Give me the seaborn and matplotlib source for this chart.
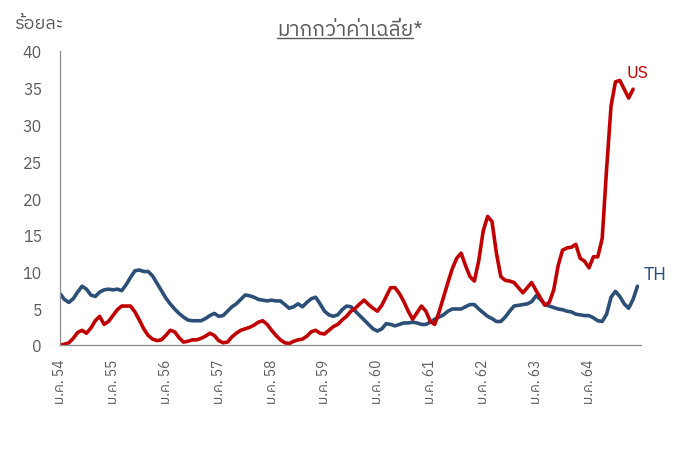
import numpy as np
import pandas as pd
import matplotlib
matplotlib.use("Agg")
import matplotlib.pyplot as plt
import seaborn as sns
from matplotlib import font_manager
from matplotlib.ft2font import FT2Font
from matplotlib.lines import Line2D

# ---- data ----
years = ["54", "55", "56", "57", "58", "59", "60", "61", "62", "63", "64"]
tick_labels = ["ม.ค. " + y for y in years]

th = [7.0, 6.2, 5.8, 6.3, 7.2, 8.0, 7.6, 6.8, 6.6, 7.2, 7.5, 7.6,
      7.5, 7.6, 7.4, 8.2, 9.2, 10.1, 10.2, 10.0, 10.0, 9.4, 8.4, 7.4,
      6.4, 5.6, 4.9, 4.3, 3.8, 3.4, 3.3, 3.3, 3.3, 3.6, 4.0, 4.3,
      3.9, 4.0, 4.6, 5.2, 5.6, 6.2, 6.8, 6.7, 6.5, 6.2, 6.1, 6.0,
      6.1, 6.0, 6.0, 5.5, 5.0, 5.2, 5.6, 5.2, 5.8, 6.3, 6.5, 5.6,
      4.6, 4.1, 3.9, 4.1, 4.8, 5.3, 5.2, 4.6, 4.0, 3.4, 2.8, 2.2,
      1.9, 2.2, 2.9, 2.8, 2.6, 2.8, 3.0, 3.0, 3.1, 3.0, 2.8, 2.8,
      3.1, 3.5, 3.8, 4.1, 4.6, 4.9, 4.9, 4.9, 5.2, 5.5, 5.5, 4.9,
      4.4, 3.9, 3.6, 3.2, 3.2, 3.8, 4.6, 5.3, 5.4, 5.5, 5.6, 5.9,
      6.7, 6.2, 5.5, 5.3, 5.1, 4.9, 4.8, 4.6, 4.5, 4.2, 4.1, 4.0,
      4.0, 3.7, 3.3, 3.2, 4.2, 6.5, 7.3, 6.6, 5.6, 5.0, 6.2, 8.0]

us = [0.0, 0.1, 0.3, 0.9, 1.7, 2.0, 1.6, 2.3, 3.3, 3.9, 2.8, 3.2,
      4.0, 4.8, 5.3, 5.3, 5.3, 4.5, 3.4, 2.2, 1.3, 0.8, 0.6, 0.7,
      1.3, 2.0, 1.8, 1.0, 0.4, 0.5, 0.7, 0.7, 0.9, 1.2, 1.6, 1.3,
      0.6, 0.3, 0.4, 1.1, 1.6, 2.0, 2.2, 2.4, 2.7, 3.1, 3.3, 2.8,
      2.0, 1.3, 0.7, 0.3, 0.2, 0.5, 0.7, 0.8, 1.2, 1.8, 2.0, 1.6,
      1.5, 2.0, 2.5, 2.8, 3.4, 3.9, 4.6, 5.0, 5.6, 6.1, 5.5, 5.0,
      4.6, 5.4, 6.6, 7.8, 7.8, 7.0, 5.9, 4.6, 3.5, 4.4, 5.3, 4.6,
      3.2, 2.8, 4.5, 6.5, 8.5, 10.4, 11.8, 12.5, 10.8, 9.3, 8.7, 11.5,
      15.5, 17.5, 16.8, 12.5, 9.3, 8.8, 8.7, 8.5, 7.8, 7.1, 7.8, 8.5,
      7.4, 6.4, 5.4, 5.8, 7.5, 10.8, 12.9, 13.2, 13.3, 13.7, 11.8, 11.4,
      10.5, 12.0, 12.0, 14.5, 24.0, 32.5, 35.8, 36.0, 34.8, 33.6, 34.8]

title_text = "มากกว่าค่าเฉลี่ย*"
ylabel_text = "ร้อยละ"

# ---- font with Thai glyphs ----
thai_family = None
for fe in font_manager.fontManager.ttflist:
    try:
        cmap = FT2Font(fe.fname).get_charmap()
        if ord("ม") in cmap and ord("ค") in cmap:
            thai_family = fe.name
            if "Sans" in fe.name:
                break
    except Exception:
        continue

sns.set_theme(style="white")
fams = ([thai_family] if thai_family else []) + ["DejaVu Sans"]
plt.rcParams["font.family"] = fams

df = pd.concat([
    pd.DataFrame({"m": np.arange(len(th)), "v": th, "s": "TH"}),
    pd.DataFrame({"m": np.arange(len(us)), "v": us, "s": "US"}),
])

fig = plt.figure(figsize=(6.85, 4.52), dpi=100)
ax = fig.add_axes([60 / 685, 106 / 452, 581 / 685, 294 / 452])
sns.lineplot(data=df, x="m", y="v", hue="s",
             palette={"TH": "#2B4F77", "US": "#C00000"},
             linewidth=2.6, legend=False, ax=ax)

ax.set_xlim(0, 131.8)
ax.set_ylim(0, 40)
ax.set_yticks(range(0, 41, 5))
ax.set_xticks(range(0, 121, 12))
ax.set_xticklabels(tick_labels, rotation=90)
ax.set_xlabel("")
ax.set_ylabel("")
grey = "#8C8C8C"
for side in ["top", "right"]:
    ax.spines[side].set_visible(False)
for side in ["left", "bottom"]:
    ax.spines[side].set_color(grey)
    ax.spines[side].set_linewidth(0.9)
ax.tick_params(axis="both", which="both", direction="out", length=5,
               width=0.8, color=grey, labelcolor="#5A5A5A")
ax.tick_params(axis="y", labelsize=11.5, pad=8)
ax.tick_params(axis="x", labelsize=10, pad=5)

ax.text(128.5, 36.5, "US", color="#C00000", fontsize=12.5)
ax.text(132.5, 9.0, "TH", color="#2B4F77", fontsize=13)

fig.text(15 / 685, 1 - 24 / 452, ylabel_text, fontsize=13, color="#5A5A5A",
         va="center", ha="left")
t = fig.text(350 / 685, 1 - 31 / 452, title_text, fontsize=15, color="#5A5A5A",
             va="center", ha="center")
fig.canvas.draw()
bb = t.get_window_extent().transformed(fig.transFigure.inverted())
fig.lines.append(Line2D([bb.x0, bb.x1 - 0.014], [bb.y0 + 0.004, bb.y0 + 0.004],
                        transform=fig.transFigure, color="#5A5A5A", linewidth=1.0))

fig.savefig("out.png", dpi=100, facecolor="white")
